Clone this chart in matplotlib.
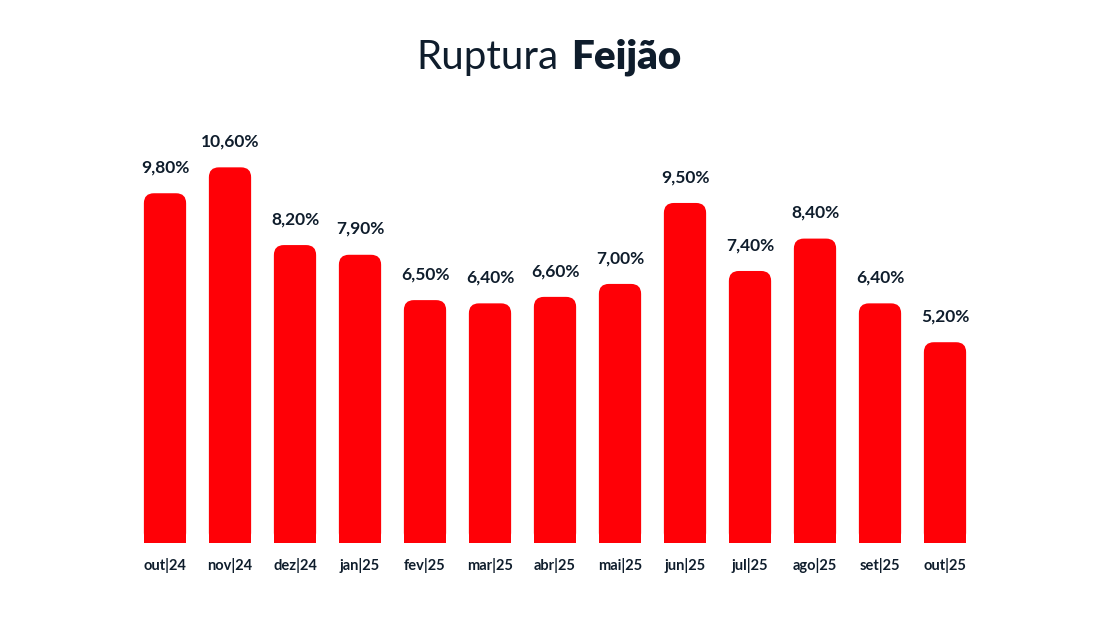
import matplotlib.pyplot as plt
from matplotlib.patches import FancyBboxPatch, Rectangle

months = ["out|24", "nov|24", "dez|24", "jan|25", "fev|25", "mar|25", "abr|25",
          "mai|25", "jun|25", "jul|25", "ago|25", "set|25", "out|25"]
ruptura = [9.80, 10.60, 8.20, 7.90, 6.50, 6.40, 6.60, 7.00, 9.50, 7.40, 8.40, 6.40, 5.20]

red = "#ff0006"
navy = "#0f1d2c"
ymin, ymax = -1, 12

plt.rcParams['font.family'] = ['Lato', 'DejaVu Sans']

fig = plt.figure(figsize=(11.1, 6.24), dpi=100)
ax = fig.add_axes([132.5 / 1110, 81 / 624, 845 / 1110, 421 / 624])
ax.set_xlim(-0.5, len(months) - 0.5)
ax.set_ylim(ymin, ymax)

w = 0.65
# rounding radius in pixels, converted to data units
px_x = 845 / len(months)
px_y = 421 / (ymax - ymin)
r = 10 / px_x
aspect = (10 / px_y) / r

for i, v in enumerate(ruptura):
    h = v - ymin
    ax.add_patch(FancyBboxPatch((i - w / 2, ymin), w, h,
                                boxstyle="round,pad=0,rounding_size=%f" % r,
                                mutation_aspect=aspect, fc=red, ec="none"))
    ax.add_patch(Rectangle((i - w / 2, ymin), w, h / 2, fc=red, ec="none"))
    ax.text(i, v + 0.55, ("%.2f%%" % v).replace(".", ","), ha="center", va="bottom",
            fontsize=12.5, fontweight="bold", color=navy)

ax.set_xticks(range(len(months)))
ax.set_xticklabels(months, fontsize=10.5, fontweight="bold", color=navy)
ax.tick_params(axis="x", length=0, pad=11)
ax.set_yticks([])
for s in ax.spines.values():
    s.set_visible(False)

fig.text(558 / 1110, 1 - 57 / 624, "Ruptura", ha="right", va="center",
         fontsize=29, fontweight="normal", color=navy)
fig.text(571 / 1110, 1 - 57 / 624, "Feijão", ha="left", va="center",
         fontsize=29, fontweight="heavy", color=navy)

fig.savefig("out.png", dpi=100)
